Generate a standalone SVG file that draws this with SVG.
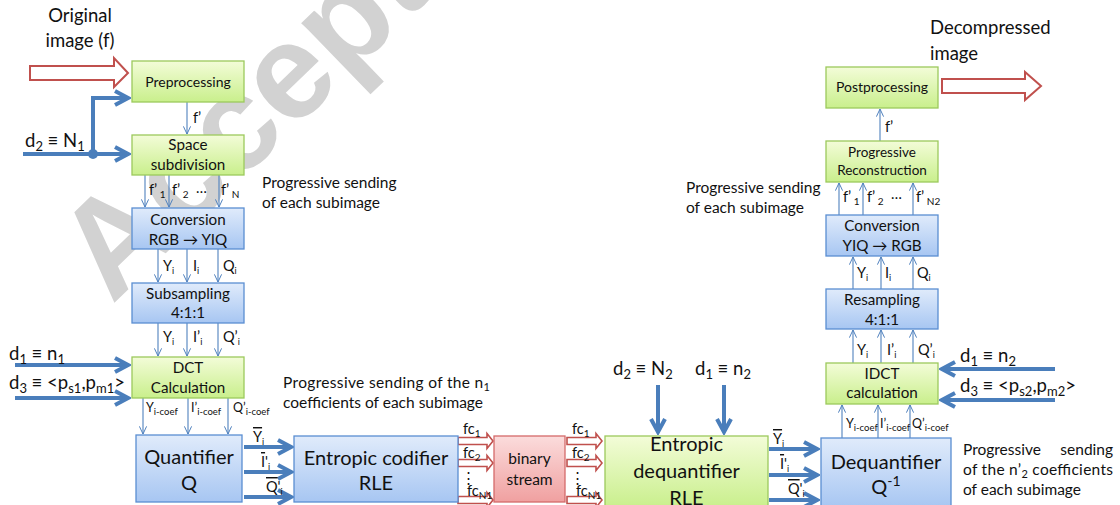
<svg xmlns="http://www.w3.org/2000/svg" width="1120" height="505" viewBox="0 0 1120 505">
<defs>
<linearGradient id="gG" x1="0" y1="0" x2="0" y2="1"><stop offset="0" stop-color="#f3fcd8"/><stop offset="1" stop-color="#c9ef8c"/></linearGradient>
<linearGradient id="gB" x1="0" y1="0" x2="0" y2="1"><stop offset="0" stop-color="#e0ebfb"/><stop offset="1" stop-color="#a7c6f2"/></linearGradient>
<linearGradient id="gR" x1="0" y1="0" x2="0" y2="1"><stop offset="0" stop-color="#fbdcdc"/><stop offset="1" stop-color="#f0a0a0"/></linearGradient>
<marker id="ta" viewBox="0 0 10 10" refX="9.5" refY="5" markerWidth="9" markerHeight="9" markerUnits="userSpaceOnUse" orient="auto"><path d="M1,1 L9.5,5 L1,9" fill="none" stroke="#4f81bd" stroke-width="1.1"/></marker>
<marker id="tk" viewBox="0 0 18 18" refX="15" refY="9" markerWidth="18" markerHeight="18" markerUnits="userSpaceOnUse" orient="auto"><path d="M2,2 L15,9 L2,16" fill="none" stroke="#4a7ebb" stroke-width="4"/></marker>
<polygon id="sra" points="0,-3.5 29,-3.5 29,-7.5 35,0 29,7.5 29,3.5 0,3.5"/>
</defs>
<style>
.g{fill:url(#gG);stroke:#9cc95c;stroke-width:1.3}
.b{fill:url(#gB);stroke:#5a8ed2;stroke-width:1.3}
.r{fill:url(#gR);stroke:#d46a6a;stroke-width:1.3}
.ha{fill:#fff;stroke:#c0504d;stroke-width:2}
.sa{fill:#fff;stroke:#c0504d;stroke-width:1.6}
.thin{stroke:#4f81bd;stroke-width:1.1;fill:none;marker-end:url(#ta)}
.thick{stroke:#4a7ebb;stroke-width:4;fill:none;marker-end:url(#tk)}
text{font-family:Lato,"Liberation Sans",sans-serif;fill:#111}
.c{text-anchor:middle}
.s13{font-size:14px}
.s14{font-size:15.2px}
.s20{font-size:20px}
.s18{font-size:18.5px}
.lb{font-size:14.5px}
.pr{font-size:15.5px}
.sm{font-size:12.5px}
.wm{font-family:"Liberation Sans",sans-serif;font-weight:bold;font-size:135px;fill:#d2d2d2}
</style>
<text class="wm" x="112" y="305" transform="rotate(-44 112 305)">Accepted</text>

<g id="connectors">
<polygon class="ha" points="30,66 114,66 114,58 128,73 114,87 114,80 30,80"/>
<polygon class="ha" points="942,79 1025,79 1025,72 1041,86 1025,100 1025,93 942,93"/>
<line class="thin" x1="187" y1="102" x2="187" y2="134"/>
<line class="thin" x1="145" y1="175" x2="145" y2="207"/>
<line class="thin" x1="169" y1="175" x2="169" y2="207"/>
<line class="thin" x1="219" y1="175" x2="219" y2="207"/>
<line class="thin" x1="158" y1="249" x2="158" y2="282"/>
<line class="thin" x1="187" y1="249" x2="187" y2="282"/>
<line class="thin" x1="218" y1="249" x2="218" y2="282"/>
<line class="thin" x1="158" y1="323" x2="158" y2="356"/>
<line class="thin" x1="187" y1="323" x2="187" y2="356"/>
<line class="thin" x1="218" y1="323" x2="218" y2="356"/>
<line class="thin" x1="143" y1="398" x2="143" y2="434"/>
<line class="thin" x1="188" y1="398" x2="188" y2="434"/>
<line class="thin" x1="228" y1="398" x2="228" y2="434"/>
<line class="thin" x1="842" y1="438" x2="842" y2="405"/>
<line class="thin" x1="878" y1="438" x2="878" y2="405"/>
<line class="thin" x1="910" y1="438" x2="910" y2="405"/>
<line class="thin" x1="853" y1="363" x2="853" y2="330"/>
<line class="thin" x1="881" y1="363" x2="881" y2="330"/>
<line class="thin" x1="913" y1="363" x2="913" y2="330"/>
<line class="thin" x1="853" y1="289" x2="853" y2="257"/>
<line class="thin" x1="881" y1="289" x2="881" y2="257"/>
<line class="thin" x1="913" y1="289" x2="913" y2="257"/>
<line class="thin" x1="839" y1="215" x2="839" y2="183"/>
<line class="thin" x1="863" y1="215" x2="863" y2="183"/>
<line class="thin" x1="913" y1="215" x2="913" y2="183"/>
<line class="thin" x1="880" y1="141" x2="880" y2="109"/>
<path class="thick" d="M23,154 L128,154"/>
<path class="thick" d="M93,154 L93,98 L128,98"/>
<circle cx="93" cy="154" r="5" fill="#4a7ebb"/>
<path class="thick" d="M15,365 L128,365"/>
<path class="thick" d="M15,398 L128,398"/>
<path class="thick" d="M244,447 L291,447"/>
<path class="thick" d="M244,472 L291,472"/>
<path class="thick" d="M244,497 L291,497"/>
<path class="thick" d="M658,385 L658,432"/>
<path class="thick" d="M724,385 L724,432"/>
<path class="thick" d="M769,449 L817,449"/>
<path class="thick" d="M769,475 L817,475"/>
<path class="thick" d="M769,500 L817,500"/>
<path class="thick" d="M1055,369 L942,369"/>
<path class="thick" d="M1055,400 L942,400"/>
<use href="#sra" class="sa" x="458" y="441"/>
<use href="#sra" class="sa" x="458" y="463"/>
<use href="#sra" class="sa" x="458" y="500"/>
<use href="#sra" class="sa" x="567" y="441"/>
<use href="#sra" class="sa" x="567" y="463"/>
<use href="#sra" class="sa" x="567" y="500"/>
</g>

<g id="labels">
<text class="s18 c" x="80" y="22">Original</text>
<text class="s18 c" x="80" y="47">image (f)</text>
<text class="s18" x="930" y="34">Decompressed</text>
<text class="s18" x="930" y="60">image</text>
<text class="s18" x="25" y="147">d<tspan font-size="13" dy="4">2</tspan><tspan dy="-4"> ≡ N</tspan><tspan font-size="13" dy="4">1</tspan></text>
<text class="s18" x="9" y="360">d<tspan font-size="13" dy="4">1</tspan><tspan dy="-4"> ≡ n</tspan><tspan font-size="13" dy="4">1</tspan></text>
<text class="s18" x="9" y="389">d<tspan font-size="13" dy="4">3</tspan><tspan dy="-4"> ≡ &lt;p</tspan><tspan font-size="13" dy="4">s1</tspan><tspan dy="-4">,p</tspan><tspan font-size="13" dy="4">m1</tspan><tspan dy="-4">&gt;</tspan></text>
<text class="s18" x="613" y="375">d<tspan font-size="13" dy="4">2</tspan><tspan dy="-4"> ≡ N</tspan><tspan font-size="13" dy="4">2</tspan></text>
<text class="s18" x="695" y="375">d<tspan font-size="13" dy="4">1</tspan><tspan dy="-4"> ≡ n</tspan><tspan font-size="13" dy="4">2</tspan></text>
<text class="s18" x="960" y="362">d<tspan font-size="13" dy="4">1</tspan><tspan dy="-4"> ≡ n</tspan><tspan font-size="13" dy="4">2</tspan></text>
<text class="s18" x="960" y="392">d<tspan font-size="13" dy="4">3</tspan><tspan dy="-4"> ≡ &lt;p</tspan><tspan font-size="13" dy="4">s2</tspan><tspan dy="-4">,p</tspan><tspan font-size="13" dy="4">m2</tspan><tspan dy="-4">&gt;</tspan></text>

<text class="pr" x="262" y="188">Progressive sending</text>
<text class="pr" x="262" y="208">of each subimage</text>
<text class="pr" x="686" y="193">Progressive sending</text>
<text class="pr" x="686" y="213">of each subimage</text>
<text class="pr" x="283" y="388" textLength="207" lengthAdjust="spacing">Progressive sending of the n<tspan font-size="11" dy="3">1</tspan></text>
<text class="pr" x="283" y="408">coefficients of each subimage</text>
<text class="pr" x="963" y="455">Progressive</text>
<text class="pr" x="1113" y="455" text-anchor="end">sending</text>
<text class="pr" x="963" y="475" textLength="150" lengthAdjust="spacing">of the n’<tspan font-size="11" dy="3">2</tspan><tspan dy="-3"> coefficients</tspan></text>
<text class="pr" x="963" y="495">of each subimage</text>

<text class="lb" x="193" y="123">f’</text>
<text class="lb" x="885" y="132">f’</text>
<text class="lb" x="149" y="195">f’<tspan font-size="10" dy="3"> 1</tspan></text>
<text class="lb" x="172" y="195">f’<tspan font-size="10" dy="3"> 2</tspan></text>
<text class="lb" x="196" y="193">…</text>
<text class="lb" x="221" y="195">f’<tspan font-size="10" dy="3"> N</tspan></text>
<text class="lb" x="843" y="202">f’<tspan font-size="10" dy="3"> 1</tspan></text>
<text class="lb" x="867" y="202">f’<tspan font-size="10" dy="3"> 2</tspan></text>
<text class="lb" x="891" y="199">…</text>
<text class="lb" x="916" y="202">f’<tspan font-size="10" dy="3"> N2</tspan></text>

<text class="lb" x="163" y="271">Y<tspan font-size="9" dy="3">i</tspan></text>
<text class="lb" x="193" y="271">I<tspan font-size="9" dy="3">i</tspan></text>
<text class="lb" x="223" y="271">Q<tspan font-size="9" dy="3">i</tspan></text>
<text class="lb" x="163" y="342">Y<tspan font-size="9" dy="3">i</tspan></text>
<text class="lb" x="193" y="342">I’<tspan font-size="9" dy="3">i</tspan></text>
<text class="lb" x="223" y="342">Q’<tspan font-size="9" dy="3">i</tspan></text>
<text class="sm" x="146" y="412">Y<tspan font-size="9.5" dy="3">i-coef</tspan></text>
<text class="sm" x="191" y="412">I’<tspan font-size="9.5" dy="3">i-coef</tspan></text>
<text class="sm" x="233" y="412">Q’<tspan font-size="9.5" dy="3">i-coef</tspan></text>
<text class="sm" x="846" y="428">Y<tspan font-size="9.5" dy="3">i-coef</tspan></text>
<text class="sm" x="880" y="428">I’<tspan font-size="9.5" dy="3">i-coef</tspan></text>
<text class="sm" x="912" y="428">Q’<tspan font-size="9.5" dy="3">i-coef</tspan></text>
<text class="lb" x="857" y="355">Y<tspan font-size="9" dy="3">i</tspan></text>
<text class="lb" x="887" y="355">I’<tspan font-size="9" dy="3">i</tspan></text>
<text class="lb" x="918" y="355">Q’<tspan font-size="9" dy="3">i</tspan></text>
<text class="lb" x="857" y="278">Y<tspan font-size="9" dy="3">i</tspan></text>
<text class="lb" x="885" y="278">I<tspan font-size="9" dy="3">i</tspan></text>
<text class="lb" x="917" y="278">Q<tspan font-size="9" dy="3">i</tspan></text>

<text class="lb" x="253" y="442"><tspan text-decoration="overline">Y</tspan><tspan font-size="9" dy="3">i</tspan></text>
<text class="lb" x="261" y="467"><tspan text-decoration="overline">I</tspan>'<tspan font-size="9" dy="3">i</tspan></text>
<text class="lb" x="266" y="492"><tspan text-decoration="overline">Q</tspan>'<tspan font-size="9" dy="3">i</tspan></text>
<text class="lb" x="773" y="444"><tspan text-decoration="overline">Y</tspan><tspan font-size="9" dy="3">i</tspan></text>
<text class="lb" x="780" y="469"><tspan text-decoration="overline">I</tspan>'<tspan font-size="9" dy="3">i</tspan></text>
<text class="lb" x="788" y="494"><tspan text-decoration="overline">Q</tspan>'<tspan font-size="9" dy="3">i</tspan></text>

<text class="lb" x="463" y="434">fc<tspan font-size="10" dy="3">1</tspan></text>
<text class="lb" x="463" y="458">fc<tspan font-size="10" dy="3">2</tspan></text>
<text class="lb" x="461" y="483">⋮</text>
<text class="lb" x="467" y="496">fc<tspan font-size="10" dy="3">N1</tspan></text>
<text class="lb" x="572" y="434">fc<tspan font-size="10" dy="3">1</tspan></text>
<text class="lb" x="572" y="458">fc<tspan font-size="10" dy="3">2</tspan></text>
<text class="lb" x="570" y="483">⋮</text>
<text class="lb" x="576" y="496">fc<tspan font-size="10" dy="3">N1</tspan></text>
</g>

<g id="preprocessing"><rect class="g" x="132" y="61" width="112" height="41"/><text class="s13 c" x="188" y="87">Preprocessing</text></g>
<g id="space-subdivision"><rect class="g" x="132" y="135" width="112" height="40"/><text class="s14 c" x="188" y="150">Space</text><text class="s14 c" x="188" y="170">subdivision</text></g>
<g id="conversion-rgb-yiq"><rect class="b" x="132" y="208" width="112" height="41"/><text class="s14 c" x="188" y="225">Conversion</text><text class="s14 c" x="188" y="245">RGB → YIQ</text></g>
<g id="subsampling"><rect class="b" x="132" y="283" width="112" height="40"/><text class="s14 c" x="188" y="299">Subsampling</text><text class="s14 c" x="188" y="318">4:1:1</text></g>
<g id="dct"><rect class="g" x="132" y="357" width="112" height="41"/><text class="s14 c" x="188" y="373">DCT</text><text class="s14 c" x="188" y="393">Calculation</text></g>
<g id="quantifier"><rect class="b" x="136" y="435" width="106" height="67"/><text class="s20 c" x="189" y="464" font-size="21">Quantifier</text><text class="s20 c" x="189" y="490" font-size="21">Q</text></g>
<g id="entropic-codifier"><rect class="b" x="294" y="436" width="164" height="66"/><text class="s20 c" x="376" y="465">Entropic codifier</text><text class="s20 c" x="376" y="490">RLE</text></g>
<g id="binary-stream"><rect class="r" x="494" y="436" width="71" height="66"/><text class="c" font-size="15.5" x="529.5" y="464">binary</text><text class="c" font-size="15.5" x="529.5" y="485">stream</text></g>
<g id="entropic-dequantifier"><rect class="g" x="605" y="436" width="163" height="72"/><text class="s20 c" x="686.5" y="451">Entropic</text><text class="s20 c" x="686.5" y="478">dequantifier</text><text class="s20 c" x="686.5" y="505">RLE</text></g>
<g id="dequantifier"><rect class="b" x="821" y="438" width="130" height="70"/><text class="s20 c" x="886" y="469" font-size="21">Dequantifier</text><text class="s20 c" x="886" y="494" font-size="21">Q<tspan font-size="14" dy="-8">-1</tspan></text></g>
<g id="idct"><rect class="g" x="826" y="363" width="112" height="41"/><text class="s14 c" x="882" y="379">IDCT</text><text class="s14 c" x="882" y="398">calculation</text></g>
<g id="resampling"><rect class="b" x="826" y="289" width="112" height="40"/><text class="s14 c" x="882" y="305">Resampling</text><text class="s14 c" x="882" y="325">4:1:1</text></g>
<g id="conversion-yiq-rgb"><rect class="b" x="826" y="215" width="112" height="41"/><text class="s14 c" x="882" y="231">Conversion</text><text class="s14 c" x="882" y="251">YIQ → RGB</text></g>
<g id="progressive-reconstruction"><rect class="g" x="826" y="141" width="112" height="41"/><text class="c" font-size="13.5" x="882" y="157">Progressive</text><text class="c" font-size="13.5" x="882" y="175">Reconstruction</text></g>
<g id="postprocessing"><rect class="g" x="826" y="67" width="112" height="41"/><text class="s13 c" x="882" y="92">Postprocessing</text></g>
</svg>
